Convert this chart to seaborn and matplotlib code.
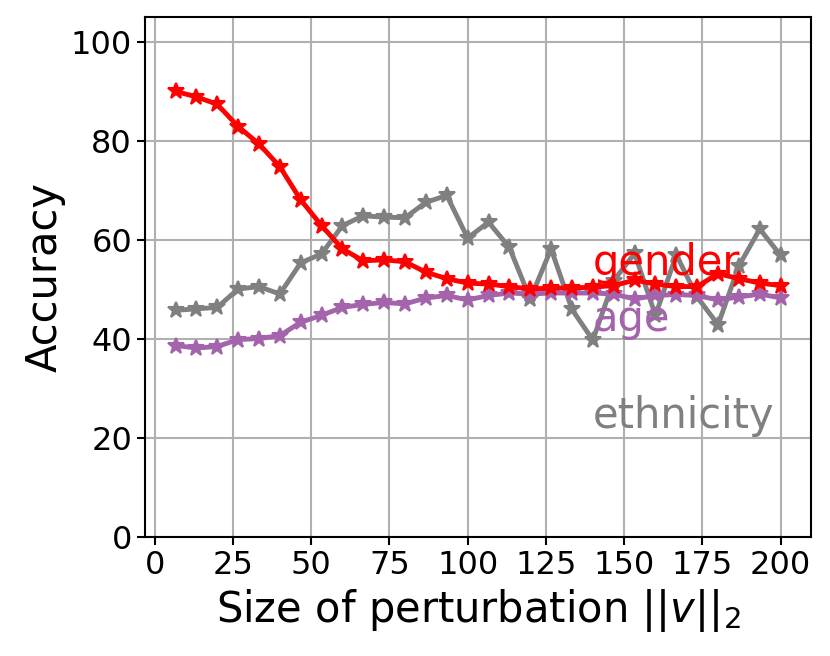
import numpy as np
import pandas as pd
import matplotlib
matplotlib.use("Agg")
import matplotlib.pyplot as plt
import seaborn as sns

# --- data ---
perturbation = [6.67, 13.33, 20.0, 26.67, 33.33, 40.0, 46.67, 53.33, 60.0, 66.67,
                73.33, 80.0, 86.67, 93.33, 100.0, 106.67, 113.33, 120.0, 126.67, 133.33,
                140.0, 146.67, 153.33, 160.0, 166.67, 173.33, 180.0, 186.67, 193.33, 200.0]

gender = [90.0, 88.9, 87.4, 82.9, 79.4, 74.8, 68.1, 62.9, 58.2, 55.8,
          56.0, 55.6, 53.5, 52.2, 51.3, 51.1, 50.6, 50.1, 50.3, 50.3,
          50.5, 50.8, 51.9, 51.1, 50.6, 50.6, 53.2, 52.2, 51.3, 50.8]

age = [38.7, 38.2, 38.5, 39.9, 40.1, 40.7, 43.4, 44.8, 46.4, 47.0,
       47.4, 47.1, 48.3, 48.8, 47.9, 48.8, 49.3, 49.1, 49.3, 49.3,
       49.3, 49.1, 48.1, 48.8, 49.0, 48.8, 47.9, 48.5, 49.1, 48.3]

ethnicity = [45.8, 46.1, 46.4, 50.1, 50.6, 49.1, 55.4, 57.2, 62.9, 64.9,
             64.6, 64.5, 67.6, 69.0, 60.4, 63.6, 58.5, 48.1, 58.2, 46.0,
             39.8, 51.8, 57.3, 44.8, 57.0, 48.5, 42.9, 54.8, 62.2, 56.9]

tasks = ["gender", "age", "ethnicity"]
colors = {"gender": "red", "age": "#a464ab", "ethnicity": "gray"}
label_pos = {"gender": (140, 53), "age": (140, 41.7), "ethnicity": (140, 22)}

df = pd.DataFrame({"size": perturbation * 3,
                   "accuracy": gender + age + ethnicity,
                   "task": ["gender"] * 30 + ["age"] * 30 + ["ethnicity"] * 30})

sns.set_style("ticks")
plt.rcParams["axes.grid"] = True
plt.rcParams["grid.color"] = "#b0b0b0"
plt.rcParams["grid.linewidth"] = 1.5
plt.rcParams["axes.edgecolor"] = "black"
plt.rcParams["axes.linewidth"] = 1.5
plt.rcParams["text.color"] = "black"
plt.rcParams["axes.labelcolor"] = "black"
plt.rcParams["xtick.color"] = "black"
plt.rcParams["ytick.color"] = "black"
plt.rcParams["font.family"] = ["DejaVu Sans"]

fig = plt.figure(figsize=(8.3, 6.56), dpi=100)
ax = fig.add_axes([0.175, 0.181, 0.802, 0.793])

for task in ["ethnicity", "age", "gender"]:
    sub = df[df["task"] == task]
    sns.lineplot(data=sub, x="size", y="accuracy", color=colors[task], marker="*",
                 markersize=12, markeredgecolor=colors[task], markeredgewidth=1.5,
                 linewidth=3.5, ax=ax, legend=False)

for task in tasks:
    x, y = label_pos[task]
    ax.text(x, y, task, color=colors[task], fontsize=30)

ax.set_ylim(0, 105)
ax.set_yticks([0, 20, 40, 60, 80, 100])
ax.set_xticks([0, 25, 50, 75, 100, 125, 150, 175, 200])
ax.margins(x=0.05)
ax.tick_params(labelsize=23, width=1.5, length=6, direction="out")
ax.set_xlabel(r"Size of perturbation $||v||_2$", fontsize=30)
ax.set_ylabel("Accuracy", fontsize=30)

fig.savefig("out.png", dpi=100)
